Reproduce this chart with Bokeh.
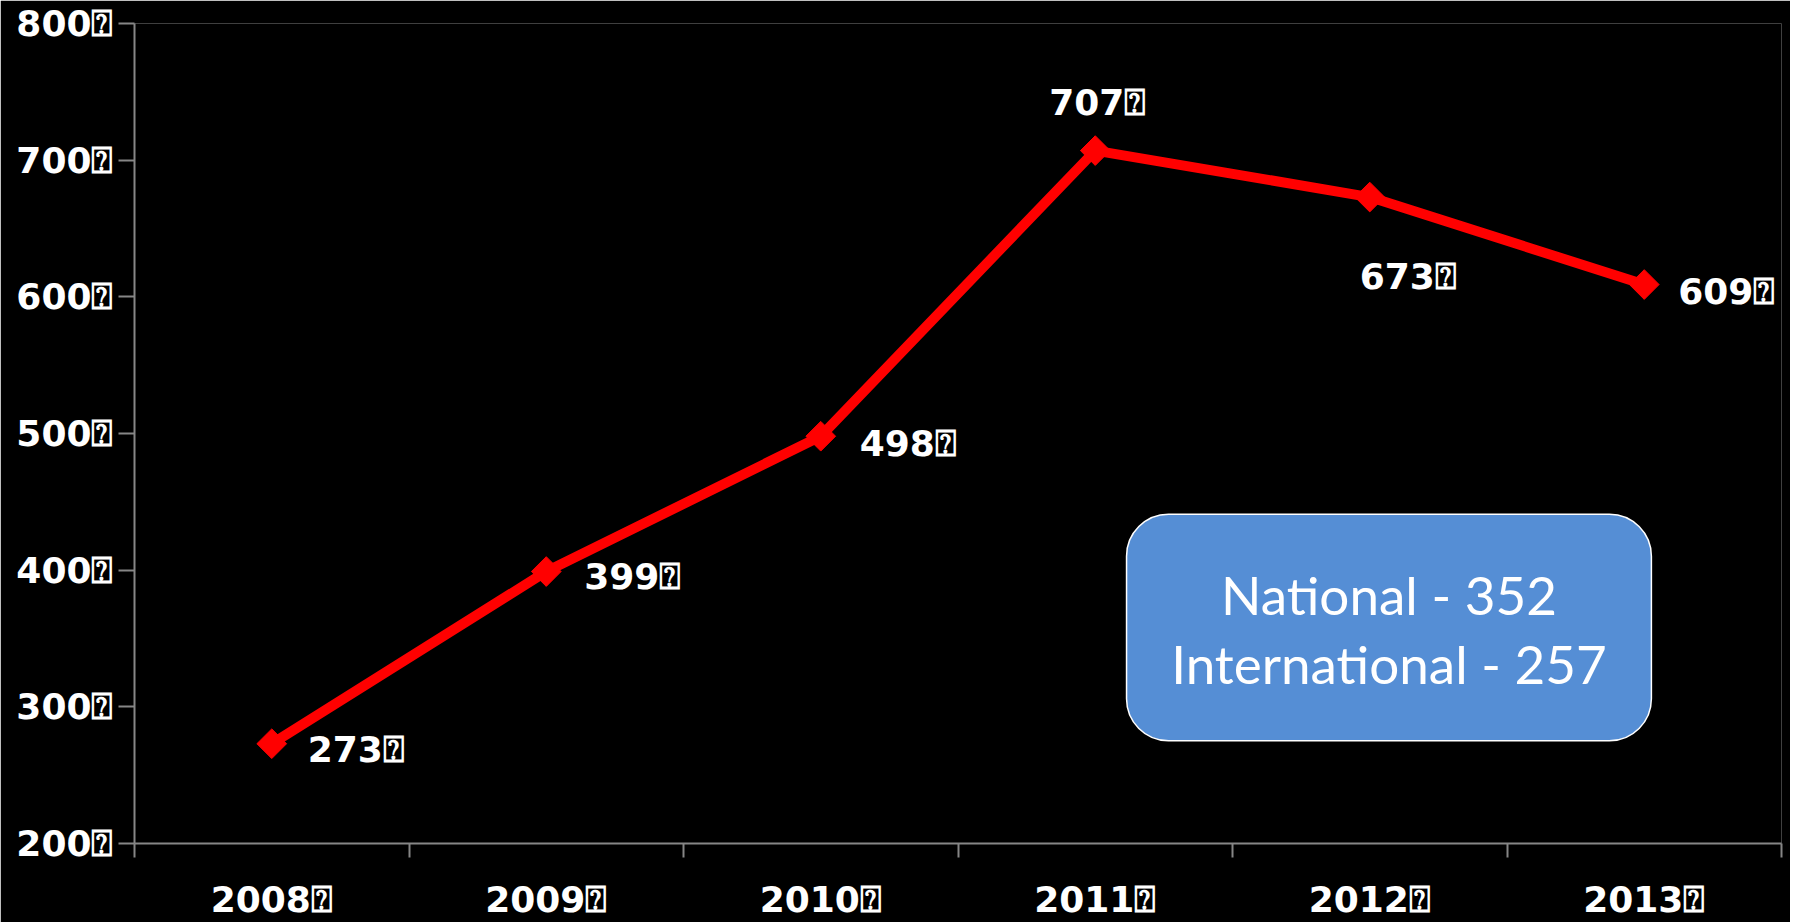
import math
from bokeh.plotting import figure
from bokeh.models import (ColumnDataSource, Range1d, LinearAxis,
                          FixedTicker, BoxAnnotation, Label, LabelSet)
from bokeh.core.properties import value
from bokeh.embed import file_html
from bokeh.resources import INLINE

# ---- data ----
years = ["2008", "2009", "2010", "2011", "2012", "2013"]
totals = [273, 399, 498, 707, 673, 609]
y_ticks = [200, 300, 400, 500, 600, 700, 800]
box_lines = ["National - 352", "International - 257"]
MARK = "\u2370"

# ---- style (label offsets in screen px; positive up) ----
label_dx = [36, 38, 39, -46, -10, 34]
label_dy = [-6, -5, -7, 48, -79, -7]

FONT = "DejaVu Sans"
FSIZE = "36px"
AXIS_COLOR = "#868686"

n = len(years)
xpos = [i + 0.5 for i in range(n)]          # category centres
bounds = list(range(n + 1))                 # category boundaries

p = figure(width=1790, height=922,
           x_range=Range1d(0, n), y_range=Range1d(200, 800),
           x_axis_location=None, y_axis_location=None,
           output_backend="svg", toolbar_location=None,
           background_fill_color="black", border_fill_color="black",
           outline_line_color=None,
           min_border_left=134, min_border_right=9, min_border_top=23, min_border_bottom=10)
p.grid.grid_line_color = None

# y axis
yax = LinearAxis(ticker=FixedTicker(ticks=y_ticks),
                 major_label_overrides={v: f"{v}{MARK}" for v in y_ticks},
                 axis_line_color=AXIS_COLOR, axis_line_width=2,
                 major_tick_line_color=AXIS_COLOR, major_tick_line_width=2,
                 major_tick_out=16, major_tick_in=0, minor_tick_line_color=None,
                 major_label_standoff=5,
                 major_label_text_color="white", major_label_text_font=FONT,
                 major_label_text_font_style="bold", major_label_text_font_size=FSIZE)
p.add_layout(yax, "left")

# x axis: labels at category centres, tick marks at category boundaries
xax = LinearAxis(ticker=FixedTicker(ticks=xpos, minor_ticks=bounds),
                 major_label_overrides={x: f"{y}{MARK}" for x, y in zip(xpos, years)},
                 axis_line_color=AXIS_COLOR, axis_line_width=2,
                 major_tick_line_color=None, major_tick_out=0, major_tick_in=0,
                 minor_tick_line_color=AXIS_COLOR, minor_tick_line_width=2,
                 minor_tick_out=14, minor_tick_in=0,
                 major_label_standoff=21,
                 major_label_text_color="white", major_label_text_font=FONT,
                 major_label_text_font_style="bold", major_label_text_font_size=FSIZE)
p.add_layout(xax, "below")

src = ColumnDataSource(dict(x=xpos, total=totals,
                            label=[f"{t}{MARK}" for t in totals],
                            dx=label_dx, dy=label_dy))

p.line("x", "total", source=src, line_color="#ff0000", line_width=10, line_join="round")
p.scatter("x", "total", source=src, marker="square", angle=math.pi / 4, size=21,
          fill_color="#ff0000", line_color="#ff0000")

labels = LabelSet(x="x", y="total", text="label", source=src,
                  x_offset="dx", y_offset="dy",
                  text_align="left", text_baseline="middle",
                  text_color="white", text_font=value(FONT), text_font_style="bold",
                  text_font_size=FSIZE)
p.add_layout(labels)

box = BoxAnnotation(left=3.614, right=5.526, bottom=275.2, top=440.9,
                    fill_color="#558ED5", fill_alpha=1.0,
                    line_color="white", line_width=1.5, line_alpha=1.0,
                    border_radius=42, level="overlay")
p.add_layout(box)

for txt, yy in zip(box_lines, [382.5, 332.0]):
    p.add_layout(Label(x=4.57, y=yy, text=txt,
                       text_align="center", text_baseline="middle",
                       text_color="white", text_font="Lato", text_font_size="53px",
                       level="overlay"))

open("out.html", "w").write(file_html(p, INLINE))
